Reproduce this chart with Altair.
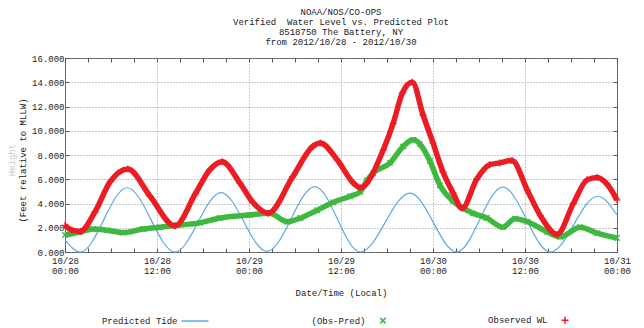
import altair as alt
import pandas as pd

# ---- data ----
pred_hours = [0.0, 2.0, 8.1, 14.35, 20.35, 26.35, 32.6, 38.5, 45.0, 51.1, 57.1, 63.3, 69.5, 72.0]
pred_values = [1.0, 0.0, 5.3, 0.0, 4.9, 0.05, 5.4, 0.0, 4.85, 0.0, 5.35, 0.0, 4.6, 3.05]

obs_hours = [0.0, 0.9, 2.0, 3.9, 5.9, 8.2, 11.1, 14.35, 17.0, 18.9, 20.5, 22.8, 24.5, 26.5,
             29.7, 32.3, 33.3, 35.5, 37.6, 38.5, 41.5, 42.8, 44.0, 45.3, 46.7, 48.0, 49.3,
             50.6, 51.8, 53.7, 55.4, 56.7, 58.3, 60.3, 62.0, 64.2, 66.3, 68.1, 69.4, 70.7, 72.0]
obs_values = [2.2, 1.8, 1.7, 3.3, 5.8, 6.85, 4.6, 2.15, 4.8, 6.8, 7.45, 5.7, 4.1, 3.2,
              6.2, 8.7, 9.0, 7.6, 5.7, 5.3, 8.4, 10.6, 13.1, 14.0, 11.3, 9.0, 6.6,
              4.9, 3.6, 6.0, 7.2, 7.35, 7.55, 5.1, 3.0, 1.45, 4.0, 5.95, 6.15, 5.6, 4.3]

diff_hours = [0.0, 2.0, 3.65, 5.5, 7.6, 10.2, 12.4, 14.6, 17.6, 20.2, 24.1, 26.7, 29.0, 30.7,
              32.9, 35.0, 37.2, 38.5, 39.4, 40.2, 42.4, 44.1, 45.4, 46.3, 47.6, 48.9, 50.6,
              53.2, 55.0, 57.1, 58.7, 60.3, 62.9, 64.6, 67.2, 69.4, 72.0]
diff_values = [1.4, 1.65, 1.9, 1.8, 1.6, 1.9, 2.05, 2.2, 2.4, 2.8, 3.05, 3.2, 2.5, 2.8,
               3.45, 4.1, 4.6, 4.95, 5.9, 6.5, 7.35, 8.7, 9.25, 8.9, 7.5, 5.5, 4.2,
               3.2, 2.8, 2.05, 2.75, 2.5, 1.65, 1.25, 2.05, 1.55, 1.15]

series_names = ["Predicted Tide", "(Obs-Pred)", "Observed WL"]
series_colors = ["#5aaae6", "#3fb83f", "#ec1c24"]
series_shapes = ["M-2.7,0L2.7,0",
                 "M-0.55,-0.55L0.55,0.55M0.55,-0.55L-0.55,0.55",
                 "M-0.7,0L0.7,0M0,-0.7L0,0.7"]

title_lines = ["NOAA/NOS/CO-OPS",
               "Verified\u00a0\u00a0Water Level vs. Predicted Plot",
               "8518750 The Battery, NY",
               "from 2012/10/28 - 2012/10/30"]
y_ticks = [0, 2, 4, 6, 8, 10, 12, 14, 16]
x_tick_step_hours = 3
x_tick_count = 25  # 10/28 00:00 .. 10/31 00:00 every 3 h

FONT = "Liberation Mono"
start = pd.Timestamp("2012-10-28 00:00")


def frame(hours, values, name):
    return pd.DataFrame({
        "time": [(start + pd.Timedelta(hours=h)).strftime("%Y-%m-%dT%H:%M:%S") for h in hours],
        "value": values,
        "series": name,
    })


df = pd.concat([frame(pred_hours, pred_values, series_names[0]),
                frame(diff_hours, diff_values, series_names[1]),
                frame(obs_hours, obs_values, series_names[2])], ignore_index=True)

x_tick_values = []
for i in range(x_tick_count):
    t = start + pd.Timedelta(hours=i * x_tick_step_hours)
    x_tick_values.append(alt.DateTime(year=t.year, month=t.month, date=t.day, hours=t.hour))

x_scale = alt.Scale(domain=[alt.DateTime(year=2012, month=10, date=28, hours=0),
                            alt.DateTime(year=2012, month=10, date=31, hours=0)], nice=False)
y_scale = alt.Scale(domain=[0, 16], nice=False)
inward = {"expr": "-4"}
major_test = "hours(datum.value) % 12 === 0"

x_main = alt.X(
    "time:T", scale=x_scale,
    axis=alt.Axis(
        values=x_tick_values,
        labelExpr="hours(datum.value) % 12 === 0 ? [timeFormat(datum.value, '%m/%d'), timeFormat(datum.value, '%H:%M')] : ''",
        title="Date/Time (Local)",
        titleY=40, titleBaseline="middle",
        labelPadding=8, labelLineHeight=10, labelFlush=False, labelOverlap=False,
        ticks=True, tickSize=inward, tickColor="#555", domain=False, grid=True,
        gridOpacity={"condition": {"test": major_test, "value": 1}, "value": 0},
    ),
)
y_main = alt.Y(
    "value:Q", scale=y_scale,
    axis=alt.Axis(
        values=y_ticks, format=".3f",
        title="(Feet relative to MLLW)",
        titleX=-43, titleY=102, titleAngle=270, titleAlign="center", titleBaseline="middle",
        labelPadding=5, ticks=True, tickSize=inward, tickColor="#555", domain=False, grid=True,
    ),
)
x_top = alt.X("time:T", scale=x_scale,
              axis=alt.Axis(orient="top", values=x_tick_values, labels=False, title=None,
                            ticks=True, tickSize=inward, tickColor="#555", domain=False, grid=False))
y_right = alt.Y("value:Q", scale=y_scale,
                axis=alt.Axis(orient="right", values=y_ticks, labels=False, title=None,
                              ticks=True, tickSize=inward, tickColor="#555", domain=False, grid=False))

color_scale = alt.Scale(domain=series_names, range=series_colors)
shape_scale = alt.Scale(domain=series_names, range=series_shapes)
leg = alt.Legend(title=None, orient="none", legendX=124, legendY=256, direction="horizontal",
                 labelAlign="right", labelOffset={"expr": "-23.5"}, columnPadding=99,
                 symbolSize=100, symbolStrokeWidth=1.5, labelFont=FONT, labelFontSize=9,
                 labelColor="#222")

base = alt.Chart(df)


def only(name):
    return base.transform_filter(alt.datum.series == name)


blue = only(series_names[0]).mark_line(color=series_colors[0], strokeWidth=1.2,
                                       interpolate="monotone").encode(x=x_top, y=y_right)
green_line = only(series_names[1]).mark_line(color=series_colors[1], strokeWidth=5.5,
                                             interpolate="monotone").encode(x=x_main, y=y_main)
green_pts = only(series_names[1]).mark_point(filled=False, size=100, strokeWidth=1.3, opacity=1).encode(
    x=x_main, y=y_main,
    color=alt.Color("series:N", scale=color_scale, legend=leg),
    shape=alt.Shape("series:N", scale=shape_scale, legend=leg))
red_line = only(series_names[2]).mark_line(color=series_colors[2], strokeWidth=5.5,
                                           interpolate="monotone").encode(x=x_main, y=y_main)
red_pts = only(series_names[2]).mark_point(filled=False, size=100, strokeWidth=1.3, opacity=1).encode(
    x=x_main, y=y_main,
    color=alt.Color("series:N", scale=color_scale, legend=leg),
    shape=alt.Shape("series:N", scale=shape_scale, legend=leg))

height_label = alt.Chart(pd.DataFrame({"t": ["Height"]})).mark_text(
    angle=270, color="#c8c8c8", font=FONT, fontSize=9).encode(
    text="t:N", x=alt.value(-53), y=alt.value(102))

main = alt.layer(green_line, green_pts, red_line, red_pts, height_label)

chart = alt.layer(blue, main).resolve_axis(x="independent", y="independent").properties(
    width=552, height=194,
    autosize=alt.AutoSizeParams(type="none"),
    padding={"left": 57, "top": 50, "right": 19, "bottom": 74},
    title=alt.TitleParams(text=title_lines, font=FONT, fontSize=9, fontWeight="normal",
                          lineHeight=10, offset=7, color="#222", anchor="middle"),
    background="white",
).configure_view(stroke="#555", strokeWidth=1).configure_axis(
    labelFont=FONT, labelFontSize=9, labelColor="#222",
    titleFont=FONT, titleFontSize=9, titleFontWeight="normal", titleColor="#222",
    gridColor="#999", gridDash=[1, 2], gridWidth=1,
)

chart.save("out.html", embed_options={"renderer": "svg", "actions": False})
